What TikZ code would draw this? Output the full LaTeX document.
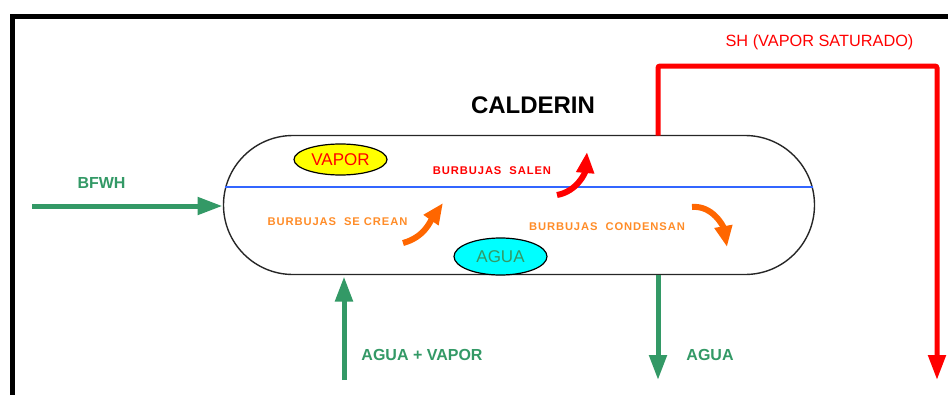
\documentclass[tikz,border=0pt]{standalone}
\usepackage{fontspec}
\setmainfont{Liberation Sans}
\newfontfamily\spacedfont[LetterSpace=8]{Liberation Sans}
\usetikzlibrary{arrows.meta,shapes.misc,shapes.geometric}
\definecolor{flowgreen}{RGB}{51,153,102}
\definecolor{bubbleorange}{RGB}{255,140,40}
\definecolor{arroworange}{RGB}{255,102,0}
\definecolor{levelblue}{RGB}{51,102,255}
\definecolor{vaporyellow}{RGB}{255,255,0}
\definecolor{aguacyan}{RGB}{0,255,255}
\definecolor{pure red}{RGB}{255,0,0}
\tikzset{
  flow/.style={line width=5pt, draw=flowgreen, -{Triangle[length=25pt,width=17pt]}},
  steam/.style={line width=5pt, draw=pure red, rounded corners=2pt, -{Triangle[length=25pt,width=17pt]}},
  curvy/.style={line width=6pt, -{Triangle[length=21pt,width=17pt]}},
  flowlabel/.style={text=flowgreen, font=\fontsize{16}{18}\selectfont\bfseries, inner sep=0pt},
  bubblelabel/.style={font=\spacedfont\fontsize{11.2}{13}\selectfont\bfseries, inner sep=0pt},
  phase/.style={ellipse, draw=black, line width=1.2pt, inner sep=0pt, font=\fontsize{17}{19}\selectfont}
}
\begin{document}
\begin{tikzpicture}[x=1pt,y=-1pt]
\useasboundingbox (0,0) rectangle (948,394);
% frame
\draw[line width=5pt, line cap=rect] (12.5,394) -- (12.5,16) -- (948,16);
% vessel
\node[rounded rectangle, draw=black!85, line width=1.4pt, inner sep=0pt,
      minimum width=591pt, minimum height=139pt] (v) at (519,205) {};
% liquid level
\draw[levelblue, line width=1.3pt] (225.4,187) -- (812.6,187);
% title
\node[font=\fontsize{24}{28}\selectfont\bfseries, inner sep=0pt] (title) at (533,105) {CALDERIN};
% phase ellipses
\node[phase, fill=vaporyellow, text=pure red, minimum width=93pt, minimum height=31pt] (vapor) at (340.5,159.5) {VAPOR};
\node[phase, fill=aguacyan, text=flowgreen, minimum width=93pt, minimum height=37pt] (agua) at (500.5,256.5) {AGUA};
% bubble labels
\node[bubblelabel, text=pure red] (salen) at (492,171) {BURBUJAS~~SALEN};
\node[bubblelabel, text=bubbleorange] (crean) at (337.5,222) {BURBUJAS~~SE CREAN};
\node[bubblelabel, text=bubbleorange] (conden) at (607,227) {BURBUJAS~~CONDENSAN};
% curved bubble arrows
\coordinate (s1) at (557,195); \coordinate (s2) at (587,152);
\draw[curvy, pure red] (s1) to[out=10,in=-95] (s2);
\coordinate (c1) at (403,243); \coordinate (c2) at (443,203);
\draw[curvy, arroworange] (c1) to[out=15,in=-125] (c2);
\coordinate (d1) at (692,207); \coordinate (d2) at (727,247);
\draw[curvy, arroworange] (d1) to[out=5,in=100] (d2);
% feed BFWH
\coordinate (bf0) at (32,206);
\coordinate (bf1) at (222.5,206);
\draw[flow] (bf0) -- (bf1);
\node[flowlabel] (bfwh) at (101.5,183) {BFWH};
% agua + vapor in
\coordinate (av0) at (344,380);
\coordinate (av1) at (344,276.5);
\draw[flow] (av0) -- (av1);
\node[flowlabel] (avlabel) at (422,355) {AGUA + VAPOR};
% agua out
\coordinate (ao0) at (658,275);
\coordinate (ao1) at (658,380);
\draw[flow] (ao0) -- (ao1);
\node[flowlabel] (aolabel) at (710,355) {AGUA};
% steam out
\coordinate (sh0) at (658,135.5);
\coordinate (sh1) at (658,66);
\coordinate (sh2) at (937,66);
\coordinate (sh3) at (937,380);
\draw[steam] (sh0) -- (sh1) -- (sh2) -- (sh3);
\node[text=pure red, font=\fontsize{16.3}{18}\selectfont, inner sep=0pt] (shlabel) at (819.5,42) {SH (VAPOR SATURADO)};
\end{tikzpicture}
\end{document}
